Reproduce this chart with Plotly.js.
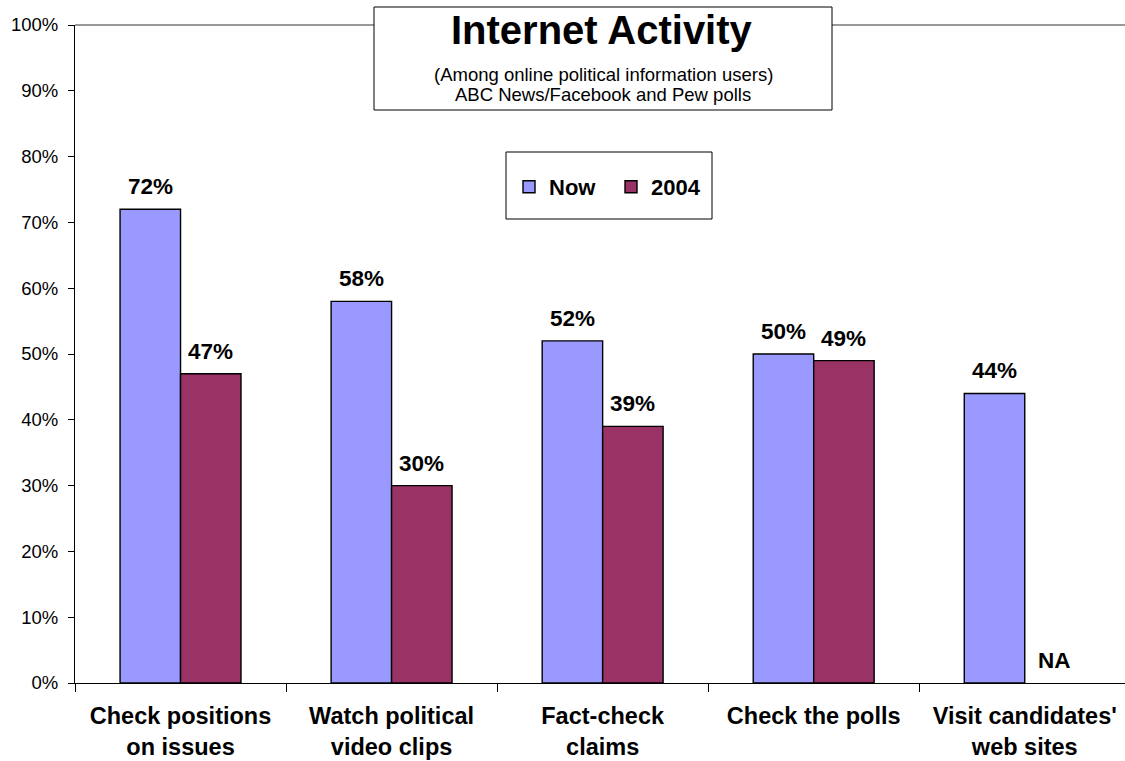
<!DOCTYPE html>
<html><head><meta charset="utf-8">
<script src="https://cdn.plot.ly/plotly-3.0.1.min.js"></script>
<style>html,body{margin:0;padding:0;background:#fff}#chart{width:1125px;height:761px}</style>
</head><body><div id="chart"></div>
<script>
const categories = ["Check positions<br>on issues","Watch political<br>video clips","Fact-check<br>claims","Check the polls","Visit candidates'<br>web sites"];
const nowValues = [72, 58, 52, 50, 44];
const y2004Values = [47, 30, 39, 49, null];
const yTickVals = [0,10,20,30,40,50,60,70,80,90,100];
const yTickText = yTickVals.map(v => v + "%");

const F = "Liberation Sans, Arial, sans-serif";
const fmt = v => v + "%";
const PX = 1050, PY = 658, L = 75, B = 683;
const px = v => (v - L) / PX;
const py = v => (B - v) / PY;

const traces = [
  {type:"bar", name:"Now", x:categories, y:nowValues,
   marker:{color:"#9999ff", line:{color:"#000", width:1.4}}, hoverinfo:"none"},
  {type:"bar", name:"2004", x:categories, y:y2004Values,
   marker:{color:"#993366", line:{color:"#000", width:1.4}}, hoverinfo:"none"}
];

const labelAnn = [];
nowValues.forEach((v, i) => {
  labelAnn.push({xref:"x", yref:"y", x:categories[i], y:v, xshift:-30, yshift:8, text:"<b>"+fmt(v)+"</b>",
    showarrow:false, font:{family:F, size:22.5}, xanchor:"center", yanchor:"bottom"});
});
y2004Values.forEach((v, i) => {
  labelAnn.push({xref:"x", yref:"y", x:categories[i], y:v == null ? 0 : v, xshift:30, yshift:8,
    text:"<b>"+(v == null ? "NA" : fmt(v))+"</b>",
    showarrow:false, font:{family:F, size:22.5}, xanchor:"center", yanchor:"bottom"});
});

const layout = {
  width:1125, height:761,
  margin:{l:75, r:0, t:25, b:78},
  paper_bgcolor:"#fff", plot_bgcolor:"#fff",
  font:{family:F, color:"#000"},
  barmode:"group", bargap:0.427, bargroupgap:0,
  showlegend:true,
  legend:{orientation:"h", x:px(509), y:py(187), xanchor:"left", yanchor:"middle",
    borderwidth:0, bgcolor:"rgba(0,0,0,0)",
    font:{family:F, size:22, weight:"bold"}, itemwidth:30,
    entrywidth:57, traceorder:"normal"},
  xaxis:{type:"category", range:[-0.5, 4.475], showgrid:false, zeroline:false,
    showline:true, linecolor:"#000", linewidth:1,
    ticks:"outside", tickson:"boundaries", ticklen:8, tickcolor:"#000",
    ticklabelstandoff:12,
    tickfont:{family:F, size:23.5, weight:"bold"}, fixedrange:true},
  yaxis:{range:[0,100], tickvals:yTickVals, ticktext:yTickText, showgrid:false, zeroline:false,
    showline:true, linecolor:"#000", linewidth:1, ticks:"outside", ticklen:6, tickcolor:"#000",
    ticklabelstandoff:6,
    tickfont:{family:F, size:18.5}, fixedrange:true},
  shapes:[
    {type:"line", xref:"paper", yref:"paper", x0:0, x1:1, y0:1, y1:1, line:{color:"#999", width:2}},
    {type:"rect", xref:"paper", yref:"paper", x0:px(374), x1:px(832),
     y0:py(110), y1:py(7), line:{color:"#000", width:1}, fillcolor:"#fff", layer:"above"},
    {type:"rect", xref:"paper", yref:"paper", x0:px(506), x1:px(712),
     y0:py(219), y1:py(152), line:{color:"#000", width:1}, fillcolor:"#fff", layer:"below"}
  ],
  annotations:[
    {xref:"paper", yref:"paper", x:px(602), y:py(30), text:"<b>Internet Activity</b>",
     showarrow:false, font:{family:F, size:40}, xanchor:"center", yanchor:"middle"},
    {xref:"paper", yref:"paper", x:px(603), y:py(75), text:"(Among online political information users)",
     showarrow:false, font:{family:F, size:18.5}, xanchor:"center", yanchor:"middle"},
    {xref:"paper", yref:"paper", x:px(603), y:py(94), text:"ABC News/Facebook and Pew polls",
     showarrow:false, font:{family:F, size:18.5}, xanchor:"center", yanchor:"middle"}
  ].concat(labelAnn)
};

Plotly.newPlot("chart", traces, layout, {displayModeBar:false, staticPlot:true});
</script></body></html>
